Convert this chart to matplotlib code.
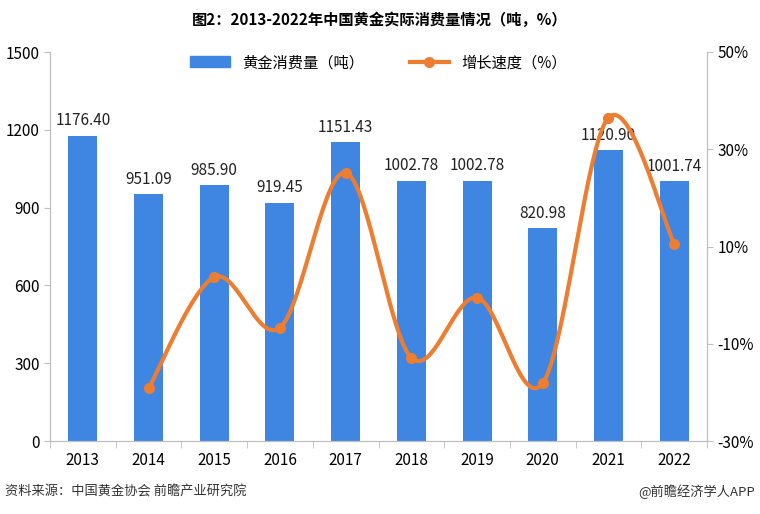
import numpy as np
import matplotlib
matplotlib.use('Agg')
import matplotlib.pyplot as plt
from matplotlib.lines import Line2D
from matplotlib.patches import Patch

plt.rcParams['font.family'] = ['Noto Sans CJK SC', 'DejaVu Sans']

# 数据
years = ['2013', '2014', '2015', '2016', '2017', '2018', '2019', '2020', '2021', '2022']
consumo = [1176.40, 951.09, 985.90, 919.45, 1151.43, 1002.78, 1002.78, 820.98, 1120.90, 1001.74]
growth_years = ['2014', '2015', '2016', '2017', '2018', '2019', '2020', '2021', '2022']
growth = [-19.2, 3.7, -6.7, 25.2, -12.9, -0.5, -18.1, 36.5, 10.6]

blue = '#3F86E3'
orange = '#ED7D31'
gray = '#BFBFBF'

fig = plt.figure(figsize=(7.6, 5.14), dpi=100)
ax = fig.add_axes([50 / 760, 73 / 514, 657 / 760, 389 / 514])
ax2 = ax.twinx()

x = np.arange(len(years))
ax.bar(x, consumo, width=0.44, color=blue, zorder=2)
for xi, v in zip(x, consumo):
    ax.text(xi, v + 25, f'{v:.2f}', ha='center', va='bottom', fontsize=11, color='#222222')

ax.set_xlim(-0.5, len(years) - 0.5)
ax.set_ylim(0, 1500)
ax.set_yticks(range(0, 1501, 300))
ax.set_xticks(x)
ax.set_xticklabels(years, fontsize=11)
ax.set_xticks(np.arange(-0.5, len(years)), minor=True)
ax.tick_params(axis='x', which='major', length=0, pad=8)
ax.tick_params(axis='x', which='minor', length=5, color=gray)
ax.tick_params(axis='y', labelsize=11, length=4, color=gray)

# 平滑曲线 (Bezier, 类似Excel平滑线)
gx = np.array([years.index(y) for y in growth_years], dtype=float)
gy = np.array(growth, dtype=float)
px = np.concatenate([[gx[0]], gx, [gx[-1]]])
py = np.concatenate([[gy[0]], gy, [gy[-1]]])
cx, cy = [], []
t = np.linspace(0, 1, 40)
for i in range(1, len(px) - 2):
    p0 = np.array([px[i], py[i]])
    p3 = np.array([px[i + 1], py[i + 1]])
    c1 = p0 + (np.array([px[i + 1], py[i + 1]]) - np.array([px[i - 1], py[i - 1]])) / 6
    c2 = p3 - (np.array([px[i + 2], py[i + 2]]) - np.array([px[i], py[i]])) / 6
    b = ((1 - t) ** 3)[:, None] * p0 + (3 * (1 - t) ** 2 * t)[:, None] * c1 + \
        (3 * (1 - t) * t ** 2)[:, None] * c2 + (t ** 3)[:, None] * p3
    cx.extend(b[:, 0])
    cy.extend(b[:, 1])
ax2.plot(cx, cy, color=orange, lw=3, zorder=3, solid_capstyle='round')
ax2.plot(gx, gy, 'o', color=orange, ms=7, zorder=4)

ax2.set_ylim(-30, 50)
ax2.set_yticks(range(-30, 51, 20))
ax2.set_yticklabels([f'{v}%' for v in range(-30, 51, 20)])
ax2.tick_params(axis='y', labelsize=11, length=4, color=gray)

for a in (ax, ax2):
    a.spines['top'].set_visible(False)
    for s in ('left', 'right', 'bottom'):
        a.spines[s].set_color(gray)

handles = [Patch(color=blue),
           Line2D([0], [0], color=orange, lw=3, marker='o', ms=7)]
ax.legend(handles, ['黄金消费量（吨）', '增长速度（%）'], loc='upper center',
          bbox_to_anchor=(0.5, 1.03), ncol=2, frameon=False, fontsize=11,
          handlelength=2.6, columnspacing=3)

fig.text(0.5, 0.962, '图2：2013-2022年中国黄金实际消费量情况（吨，%）', ha='center', va='center',
         fontsize=11, fontweight='bold')
fig.text(5 / 760, 22 / 514, '资料来源：中国黄金协会 前瞻产业研究院', ha='left', va='center', fontsize=9.5, color='#333333')
fig.text(755 / 760, 22 / 514, '@前瞻经济学人APP', ha='right', va='center', fontsize=9.5, color='#333333')

fig.savefig('out.png', dpi=100)
